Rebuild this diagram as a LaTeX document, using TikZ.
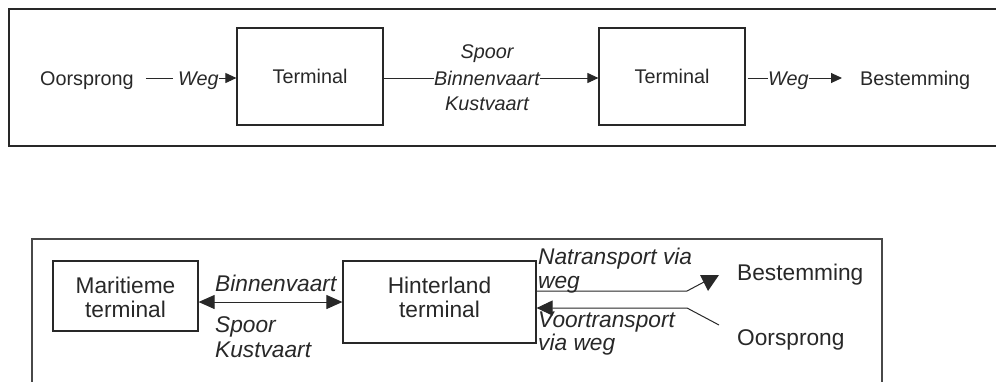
\documentclass[tikz,border=0pt]{standalone}
\usepackage{fontspec}
\setmainfont{Liberation Sans}
\usetikzlibrary{arrows.meta}
\definecolor{ink}{RGB}{40,40,40}
\begin{document}
\begin{tikzpicture}[x=1pt,y=-1pt,
  txtA/.style={inner sep=0pt,text=ink,font=\fontsize{19.8}{26}\selectfont,anchor=base west},
  itA/.style={txtA,font=\fontsize{19.8}{26}\selectfont\itshape},
  txtB/.style={inner sep=0pt,text=ink,font=\fontsize{22.7}{24}\selectfont,anchor=base west},
  itB/.style={txtB,font=\fontsize{22.7}{24}\selectfont\itshape},
  boxA/.style={draw=ink,line width=1.2pt,inner sep=0pt,text=ink,font=\fontsize{19.8}{26}\selectfont,minimum width=146pt,minimum height=97pt},
  boxB/.style={draw=ink,line width=1.2pt,inner sep=0pt},
  lbl/.style={inner sep=0pt,text=ink,font=\fontsize{22.7}{24}\selectfont,align=center},
  conn/.style={draw=ink,line width=1pt},
  arrA/.style={conn,-{Triangle[length=11pt,width=10pt]}},
  arrB/.style={conn,-{Triangle[length=16pt,width=15pt]}},
  arrBB/.style={conn,{Triangle[length=16pt,width=14pt]}-{Triangle[length=16pt,width=14pt]}},
  frameA/.style={draw=ink,line width=2pt},
  frameB/.style={draw=ink!85,line width=1.2pt}]

\useasboundingbox (0,0) rectangle (996,381);
\fill[white] (0,0) rectangle (996,381);

% top diagram
\draw[frameA] (1000,9) -- (9,9) -- (9,146) -- (1000,146);
\node[txtA] (o1) at (40,85) {Oorsprong};
\node[itA] (w1) at (178,85) {Weg};
\node[boxA] (t1) at (310,76.5) {Terminal};
\node[itA,anchor=base] (s1) at (487,58) {Spoor};
\node[itA,anchor=base] (b1) at (487,85) {Binnenvaart};
\node[itA,anchor=base] (k1) at (487,110) {Kustvaart};
\node[boxA] (t2) at (672,76.5) {Terminal};
\node[itA] (w2) at (768,85) {Weg};
\node[txtA] (d1) at (860,85) {Bestemming};

\draw[conn] ([xshift=12pt,yshift=7pt]o1.base east) -- ([xshift=-5pt,yshift=7pt]w1.base west);
\draw[arrA] ([yshift=7pt]w1.base east) -- ([yshift=-1.5pt]t1.west);
\draw[conn] ([yshift=-1.5pt]t1.east) -- ([yshift=7pt]b1.base west);
\draw[arrA] ([yshift=7pt]b1.base east) -- ([yshift=-1.5pt]t2.west);
\draw[conn] ([xshift=2pt,yshift=-1.5pt]t2.east) -- ([yshift=7pt]w2.base west);
\draw[arrA] ([yshift=7pt]w2.base east) -- ([xshift=-18pt,yshift=7pt]d1.base west);

% bottom diagram
\draw[frameB] (32,385) -- (32,239) -- (882,239) -- (882,385);
\node[boxB,minimum width=145pt,minimum height=70pt] (m1) at (125.5,296) {};
\node[lbl] (m1t) at (125.5,297) {Maritieme\\terminal};
\node[boxB,minimum width=193pt,minimum height=82pt] (h1) at (439.5,302) {};
\node[lbl] (h1t) at (439.5,297) {Hinterland\\terminal};
\draw[arrBB] ([yshift=-6pt]m1.east) -- (h1.west);
\node[itB] (b2) at (215,291) {Binnenvaart};
\node[itB] (s2) at (215,332) {Spoor};
\node[itB] (k2) at (215,357) {Kustvaart};
\node[itB] (n1) at (538,264) {Natransport via};
\node[itB] (n2) at (538,288) {weg};
\node[itB] (v1) at (538,327) {Voortransport};
\node[itB] (v2) at (538,350) {via weg};
\node[txtB] (d2) at (737,280) {Bestemming};
\node[txtB] (o2) at (737,345) {Oorsprong};
\coordinate (nb) at (687,291);
\coordinate (ne) at (704,282);
\coordinate (vb) at (687,308);
\coordinate (vs) at (719,325);
\draw[conn] ([yshift=11pt]h1.east) -- (nb) -- (ne);
\fill[ink] (700,275) -- (719,275) -- (708,291) -- cycle;
\draw[arrB] (vs) -- (vb) -- ([yshift=-6pt]h1.east);
\end{tikzpicture}
\end{document}
